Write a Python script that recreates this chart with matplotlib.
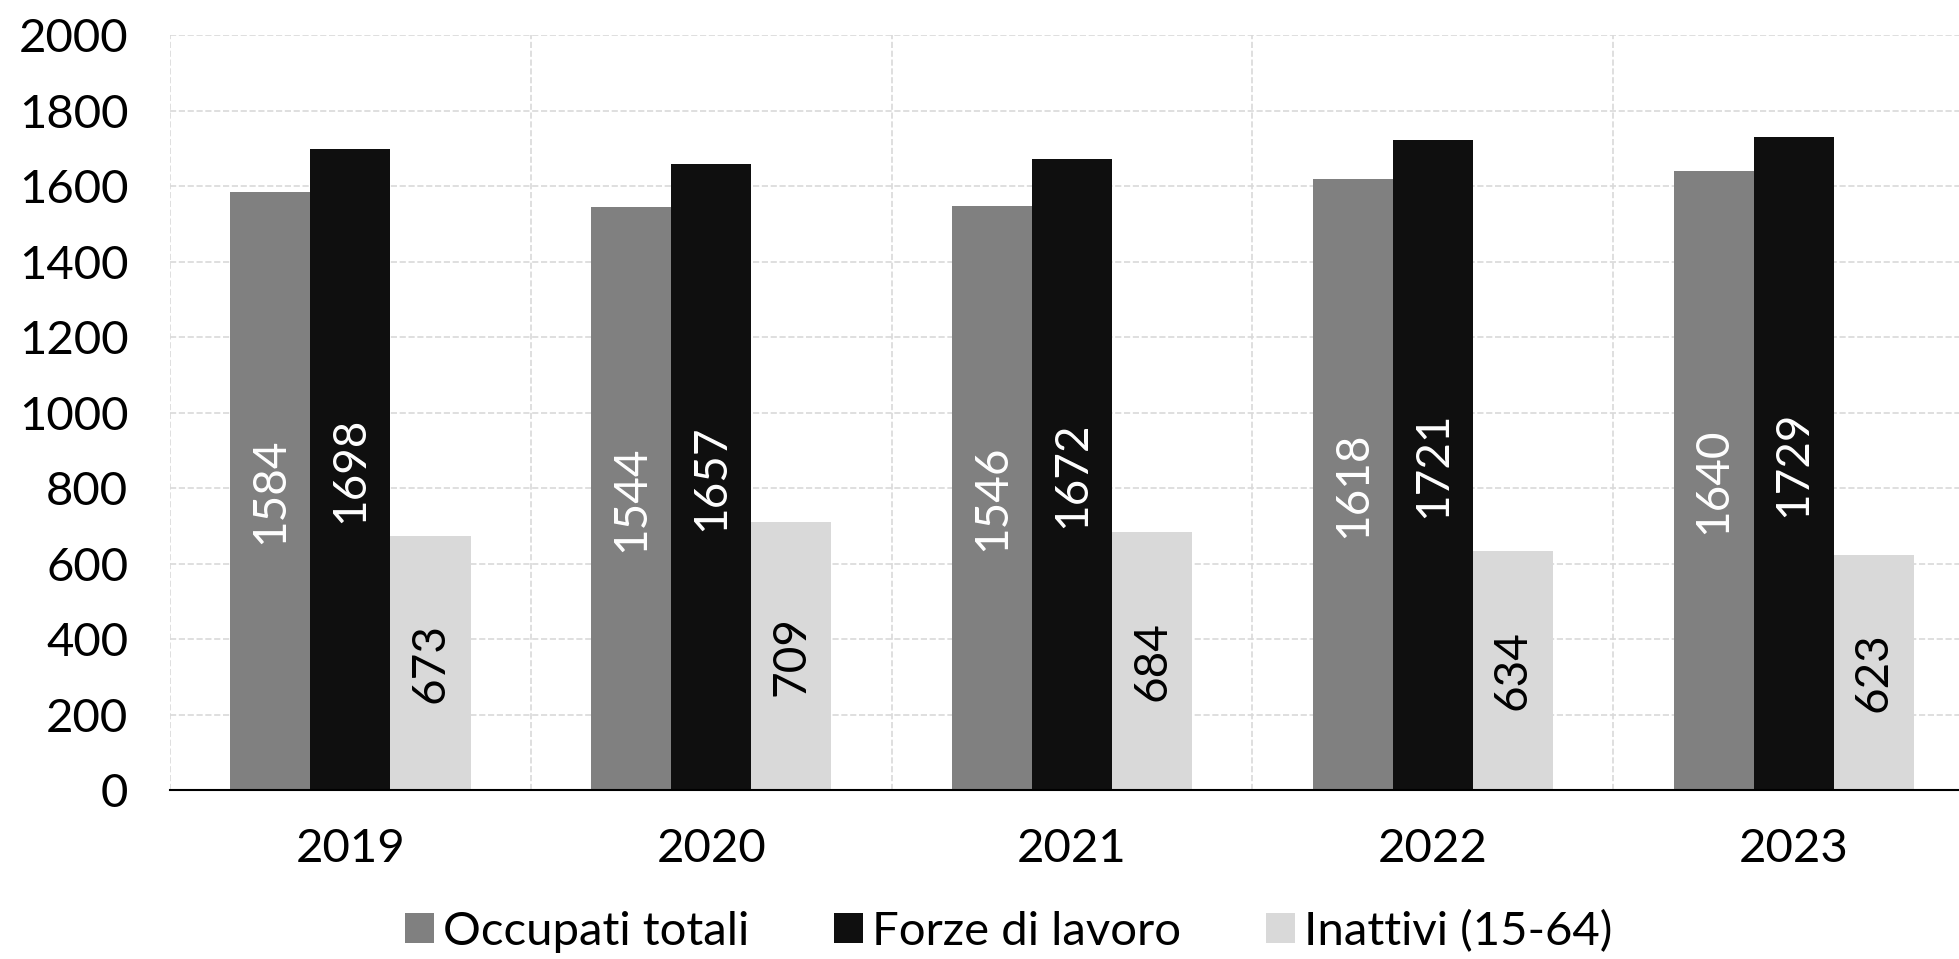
import matplotlib
matplotlib.use('Agg')
import matplotlib.pyplot as plt
import numpy as np

plt.rcParams['font.family'] = ['Lato', 'DejaVu Sans']

years = ['2019', '2020', '2021', '2022', '2023']
occupati = [1584, 1544, 1546, 1618, 1640]
forze = [1698, 1657, 1672, 1721, 1729]
inattivi = [673, 709, 684, 634, 623]

series = [
    ('Occupati totali', occupati, '#808080', 'white'),
    ('Forze di lavoro', forze, '#0f0f0f', 'white'),
    ('Inattivi (15-64)', inattivi, '#d9d9d9', 'black'),
]

fig = plt.figure(figsize=(19.59, 9.59), dpi=100)
ax = fig.add_axes([0.0868, 0.1762, 0.9209, 0.7873])

x = np.arange(len(years))
w = 0.222
for i, (name, vals, col, tcol) in enumerate(series):
    pos = x + (i - 1) * w
    bars = ax.bar(pos, vals, w, color=col, label=name, zorder=3, linewidth=0)
    for b, v in zip(bars, vals):
        ax.text(b.get_x() + b.get_width() / 2, v / 2, str(v), rotation=90,
                ha='center', va='center', color=tcol, fontsize=33, zorder=4)

ax.set_xlim(-0.5, len(years) - 0.5)
ax.set_ylim(0, 2000)
ax.set_yticks(np.arange(0, 2001, 200))
ax.set_xticks(x)
ax.set_xticklabels(years)
ax.set_xticks(np.arange(-0.5, len(years), 1), minor=True)

ax.grid(axis='y', which='major', color='#d9d9d9', linestyle='--', linewidth=1.2, zorder=0)
ax.grid(axis='x', which='minor', color='#d9d9d9', linestyle='--', linewidth=1.2, zorder=0)

for s in ['top', 'right', 'left']:
    ax.spines[s].set_visible(False)
ax.spines['bottom'].set_linewidth(1.5)
ax.spines['bottom'].set_zorder(5)

ax.tick_params(axis='both', which='both', length=0, labelsize=34)
ax.tick_params(axis='x', pad=27)
ax.tick_params(axis='y', pad=30)

fig.legend(loc='center', bbox_to_anchor=(0.515, 0.029), ncol=3, frameon=False,
           fontsize=34, handlelength=0.6, handleheight=0.6, handletextpad=0.2,
           columnspacing=1.8)

fig.savefig('out.png', dpi=100)
